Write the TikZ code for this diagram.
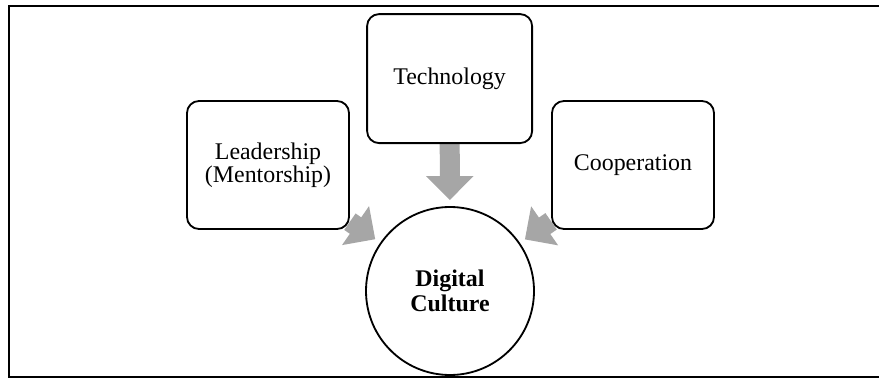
\documentclass[tikz,border=0pt]{standalone}
\usepackage{fontspec}
\setmainfont{Liberation Serif}
\usetikzlibrary{arrows.meta,backgrounds}

\definecolor{arrowgray}{HTML}{A6A6A6}

\tikzset{
  factor/.style={draw, line width=1.3pt, rounded corners=0.3cm, fill=white,
    minimum width=4.05cm, minimum height=3.2cm, align=center,
    font=\fontsize{17}{16.5}\selectfont},
  core/.style={draw, circle, line width=1.3pt, fill=white, minimum size=4.2cm,
    inner sep=0pt, align=center, font=\fontsize{17}{18}\selectfont\bfseries},
  fatarrow/.style={draw=arrowgray, line width=0.5cm,
    -{Triangle[length=0.6cm,width=1.15cm]}, shorten >=0.15cm}
}

\begin{document}
\begin{tikzpicture}
  \useasboundingbox (0,0) rectangle (21.975,9.525);
  % factors
  \node[factor, minimum width=4.125cm, minimum height=3.225cm] (tech) at (11.24,7.56) {Technology};
  \node[factor] (lead) at (6.7,5.4) {Leadership\\(Mentorship)};
  \node[factor] (coop) at (15.825,5.4) {Cooperation};
  % centre
  \node[core] (culture) at (11.25,2.25) {Digital\\Culture};
  % arrows behind the boxes
  \begin{scope}[on background layer]
    \draw[fatarrow] (tech) -- (culture);
    \draw[fatarrow] (lead) -- (culture);
    \draw[fatarrow] (coop) -- (culture);
  \end{scope}
  % frame
  \draw[line width=1.1pt] (22.1,9.375) -- (0.225,9.375) -- (0.225,0.1) -- (22.1,0.1);
\end{tikzpicture}
\end{document}
